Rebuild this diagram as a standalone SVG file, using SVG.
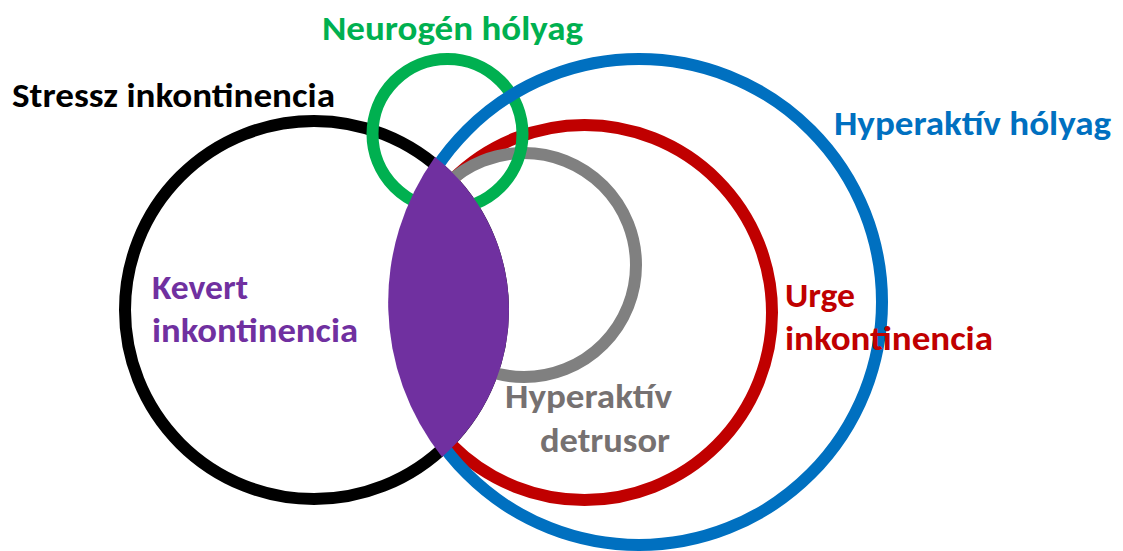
<svg xmlns="http://www.w3.org/2000/svg" width="1123" height="551" viewBox="0 0 1123 551">
  <style>
    .ring { fill: none; stroke-width: 12; }
    .lbl { font-family: Carlito, Lato, "Liberation Sans", sans-serif; font-weight: bold; font-size: 34px; }
  </style>
  <rect width="1123" height="551" fill="#ffffff"/>
  <g id="stressz">
    <circle class="ring" cx="314" cy="310" r="189" stroke="#000000"/>
  </g>
  <g id="urge">
    <circle class="ring" cx="584.5" cy="312.5" r="187.5" stroke="#C00000"/>
  </g>
  <g id="detrusor">
    <circle class="ring" cx="524" cy="265" r="112" stroke="#808080" stroke-width="11"/>
  </g>
  <g id="neurogen">
    <circle class="ring" cx="447.5" cy="134" r="75" stroke="#00B050" stroke-width="11"/>
  </g>
  <g id="hyperaktiv-holyag">
    <circle class="ring" cx="639" cy="302" r="243" stroke="#0070C0"/>
  </g>
  <g id="kevert">
    <path d="M 435 157 A 195 195 0 0 1 442 457 A 249 249 0 0 1 435 157 Z" fill="#7030A0"/>
  </g>
  <g id="labels">
    <text class="lbl" x="322" y="40" fill="#00B050" textLength="261" lengthAdjust="spacingAndGlyphs">Neurogén hólyag</text>
    <text class="lbl" x="12" y="107" fill="#000000" textLength="323" lengthAdjust="spacingAndGlyphs">Stressz inkontinencia</text>
    <text class="lbl" x="834" y="135" fill="#0070C0" textLength="277" lengthAdjust="spacingAndGlyphs">Hyperaktív hólyag</text>
    <text class="lbl" x="785" y="307" fill="#C00000" textLength="70" lengthAdjust="spacingAndGlyphs">Urge</text>
    <text class="lbl" x="785" y="350" fill="#C00000" textLength="208" lengthAdjust="spacingAndGlyphs">inkontinencia</text>
    <text class="lbl" x="152" y="299" fill="#7030A0" textLength="96" lengthAdjust="spacingAndGlyphs">Kevert</text>
    <text class="lbl" x="152" y="342" fill="#7030A0" textLength="206" lengthAdjust="spacingAndGlyphs">inkontinencia</text>
    <text class="lbl" x="505" y="408" fill="#767171" textLength="167" lengthAdjust="spacingAndGlyphs">Hyperaktív</text>
    <text class="lbl" x="540" y="452" fill="#767171" textLength="130" lengthAdjust="spacingAndGlyphs">detrusor</text>
  </g>
  <g id="connectors"/>
</svg>
